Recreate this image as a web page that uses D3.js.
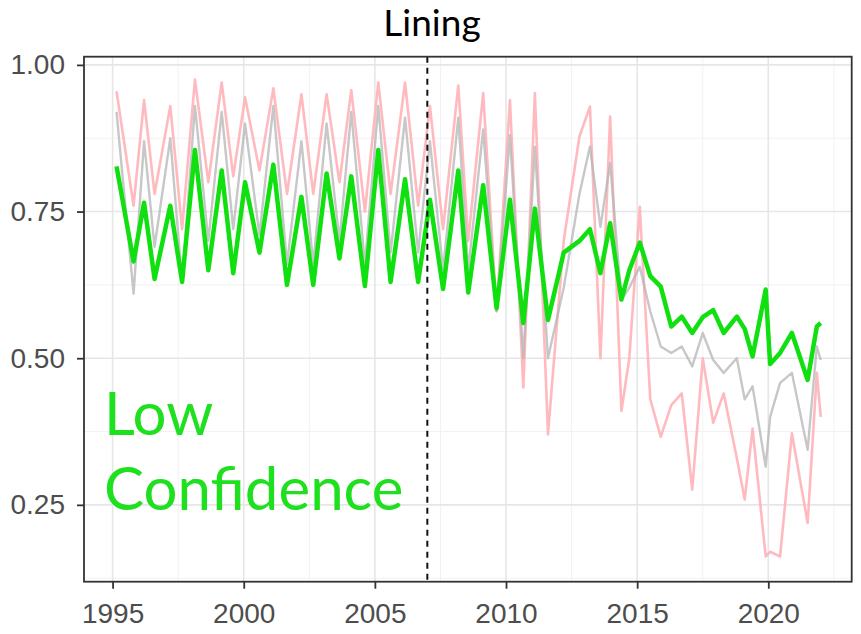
<!DOCTYPE html>
<html>
<head>
<meta charset="utf-8">
<script src="https://cdn.jsdelivr.net/npm/d3@7"></script>
<style>
  body { margin: 0; background: #fff; }
  svg { display: block; }
</style>
</head>
<body>
<div id="chart"></div>
<script>
// time points (decimal years), roughly each seasonal peak and trough
var years = [1995.15, 1995.8, 1996.2, 1996.6, 1997.2, 1997.65, 1998.14, 1998.65, 1999.16, 1999.6,
  2000.05, 2000.6, 2001.13, 2001.65, 2002.2, 2002.65, 2003.16, 2003.65, 2004.1, 2004.62,
  2005.13, 2005.6, 2006.15, 2006.65, 2007.1, 2007.6, 2008.18, 2008.56, 2009.13, 2009.64,
  2010.15, 2010.66, 2011.1, 2011.6, 2012.2, 2012.8, 2013.2, 2013.6, 2013.97, 2014.4,
  2014.7, 2015.1, 2015.5, 2015.9, 2016.3, 2016.7, 2017.1, 2017.5, 2017.9, 2018.3,
  2018.8, 2019.1, 2019.4, 2019.9, 2020.07, 2020.45, 2020.9, 2021.5, 2021.85, 2022.0]

var greenVals = [0.827, 0.665, 0.765, 0.635, 0.76, 0.63, 0.855, 0.65, 0.82, 0.645,
  0.80, 0.68, 0.83, 0.625, 0.775, 0.625, 0.815, 0.67, 0.81, 0.623,
  0.855, 0.63, 0.805, 0.63, 0.77, 0.618, 0.82, 0.612, 0.795, 0.585,
  0.77, 0.56, 0.755, 0.565, 0.68, 0.70, 0.72, 0.645, 0.73, 0.60,
  0.65, 0.697, 0.64, 0.622, 0.554, 0.571, 0.543, 0.57, 0.582, 0.543,
  0.571, 0.55, 0.503, 0.617, 0.49, 0.509, 0.543, 0.463, 0.554, 0.56]

var grayVals = [0.92, 0.61, 0.87, 0.69, 0.875, 0.63, 0.93, 0.70, 0.92, 0.72,
  0.90, 0.71, 0.93, 0.66, 0.87, 0.66, 0.90, 0.70, 0.92, 0.66,
  0.93, 0.68, 0.91, 0.68, 0.87, 0.65, 0.91, 0.65, 0.89, 0.58,
  0.88, 0.50, 0.86, 0.50, 0.62, 0.78, 0.861, 0.724, 0.833, 0.60,
  0.62, 0.656, 0.58, 0.52, 0.509, 0.52, 0.486, 0.543, 0.497, 0.475,
  0.50, 0.43, 0.452, 0.315, 0.40, 0.458, 0.475, 0.344, 0.52, 0.497]

var pinkVals = [0.955, 0.76, 0.94, 0.78, 0.93, 0.72, 0.975, 0.80, 0.97, 0.81,
  0.945, 0.82, 0.96, 0.78, 0.95, 0.78, 0.95, 0.80, 0.957, 0.75,
  0.97, 0.78, 0.97, 0.76, 0.93, 0.72, 0.965, 0.70, 0.952, 0.58,
  0.94, 0.45, 0.952, 0.37, 0.70, 0.878, 0.929, 0.50, 0.912, 0.41,
  0.50, 0.758, 0.43, 0.366, 0.42, 0.44, 0.276, 0.50, 0.39, 0.44,
  0.33, 0.259, 0.38, 0.162, 0.17, 0.162, 0.372, 0.219, 0.475, 0.40]

var xTicks = [1995, 2000, 2005, 2010, 2015, 2020]
var yTicks = [0.25, 0.50, 0.75, 1.00]
var breakYear = 2007

var width = 861, height = 634
var panel = {x0: 84, x1: 851.7, y0: 56.7, y1: 581.7}

var svg = d3.select('#chart').append('svg')
  .attr('width', width)
  .attr('height', height)

var x = d3.scaleLinear().domain([1993.91, 2023.18]).range([panel.x0, panel.x1])
var y = d3.scaleLinear().domain([0.119, 1.014]).range([panel.y1, panel.y0])

// panel background + grid
svg.append('rect')
  .attr('x', panel.x0).attr('y', panel.y0)
  .attr('width', panel.x1 - panel.x0).attr('height', panel.y1 - panel.y0)
  .attr('fill', '#fff')

var minorX = d3.range(1992.5, 2023.2, 5).filter(function(d) { return d > 1993.91 })
var minorY = [0.125, 0.375, 0.625, 0.875]

var grid = svg.append('g')
grid.selectAll('.vminor').data(minorX).enter().append('line')
  .attr('x1', function(d) { return x(d) }).attr('x2', function(d) { return x(d) })
  .attr('y1', panel.y0).attr('y2', panel.y1)
  .attr('stroke', '#f2f2f2').attr('stroke-width', 1)
grid.selectAll('.hminor').data(minorY).enter().append('line')
  .attr('y1', function(d) { return y(d) }).attr('y2', function(d) { return y(d) })
  .attr('x1', panel.x0).attr('x2', panel.x1)
  .attr('stroke', '#f2f2f2').attr('stroke-width', 1)
grid.selectAll('.vmajor').data(xTicks).enter().append('line')
  .attr('x1', function(d) { return x(d) }).attr('x2', function(d) { return x(d) })
  .attr('y1', panel.y0).attr('y2', panel.y1)
  .attr('stroke', '#e6e6e6').attr('stroke-width', 1.6)
grid.selectAll('.hmajor').data(yTicks).enter().append('line')
  .attr('y1', function(d) { return y(d) }).attr('y2', function(d) { return y(d) })
  .attr('x1', panel.x0).attr('x2', panel.x1)
  .attr('stroke', '#e6e6e6').attr('stroke-width', 1.6)

function series(vals) {
  return years.map(function(t, i) { return {t: t, v: vals[i]} })
}

var line = d3.line()
  .x(function(d) { return x(d.t) })
  .y(function(d) { return y(d.v) })

svg.append('path')
  .datum(series(pinkVals))
  .attr('d', line)
  .attr('fill', 'none')
  .attr('stroke', '#ffb3b8')
  .attr('stroke-width', 2.6)
  .attr('stroke-linejoin', 'round')
  .attr('opacity', 0.9)

svg.append('path')
  .datum(series(grayVals))
  .attr('d', line)
  .attr('fill', 'none')
  .attr('stroke', '#b4b4b4')
  .attr('stroke-width', 2.4)
  .attr('stroke-linejoin', 'round')
  .attr('opacity', 0.75)

svg.append('path')
  .datum(series(greenVals))
  .attr('d', line)
  .attr('fill', 'none')
  .attr('stroke', '#10e010')
  .attr('stroke-width', 4.5)
  .attr('stroke-linejoin', 'round')

// change point
svg.append('line')
  .attr('x1', x(breakYear)).attr('x2', x(breakYear))
  .attr('y1', panel.y0).attr('y2', panel.y1)
  .attr('stroke', '#111')
  .attr('stroke-width', 2)
  .attr('stroke-dasharray', '6,5')

// panel border
svg.append('rect')
  .attr('x', panel.x0).attr('y', panel.y0)
  .attr('width', panel.x1 - panel.x0).attr('height', panel.y1 - panel.y0)
  .attr('fill', 'none')
  .attr('stroke', '#333')
  .attr('stroke-width', 1.8)

// axes
var xAxis = svg.append('g')
  .attr('transform', 'translate(0,' + panel.y1 + ')')
  .call(d3.axisBottom(x).tickValues(xTicks).tickFormat(d3.format('d')).tickSize(7).tickPadding(8))
var yAxis = svg.append('g')
  .attr('transform', 'translate(' + panel.x0 + ',0)')
  .call(d3.axisLeft(y).tickValues(yTicks).tickFormat(d3.format('.2f')).tickSize(7).tickPadding(12))

;[xAxis, yAxis].forEach(function(a) {
  a.select('.domain').remove()
  a.selectAll('.tick line').attr('stroke', '#333').attr('stroke-width', 1.8)
  a.selectAll('.tick text')
    .attr('fill', '#4d4d4d')
    .style('font-family', '"Liberation Sans", Arial, sans-serif')
    .style('font-size', '28px')
})
xAxis.selectAll('.tick text').attr('dy', '0.95em')

// title
svg.append('text')
  .attr('x', 432).attr('y', 36)
  .attr('text-anchor', 'middle')
  .style('font-family', 'Lato, sans-serif')
  .style('font-size', '37px')
  .attr('fill', '#000')
  .text('Lining')

// annotation
var note = svg.append('text')
  .style('font-family', 'Lato, sans-serif')
  .style('font-size', '60px')
  .attr('fill', '#1ee01e')
note.append('tspan').attr('x', 104).attr('y', 435).text('Low')
note.append('tspan').attr('x', 104).attr('y', 510).text('Confidence')
</script>
</body>
</html>
